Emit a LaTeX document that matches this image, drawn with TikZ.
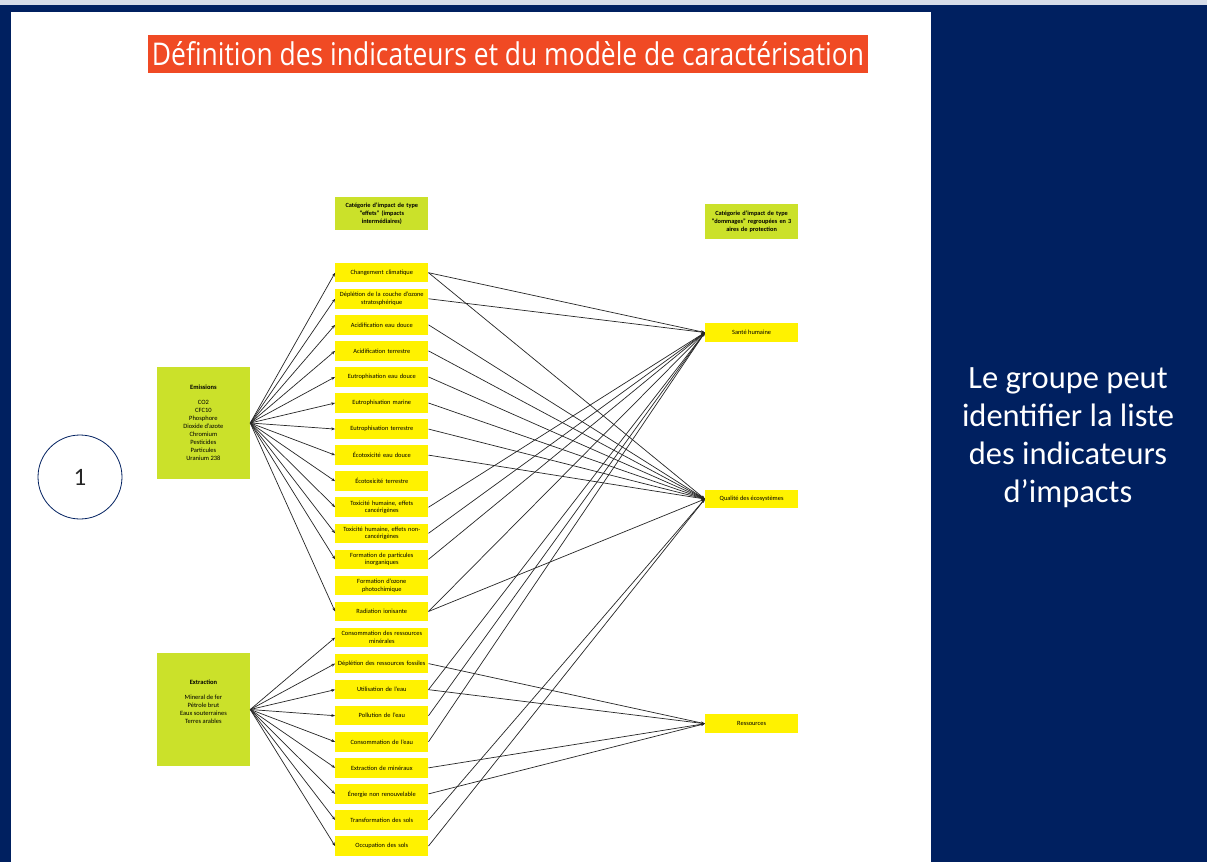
\documentclass[tikz,border=0pt]{standalone}
\usepackage{fontspec}
\setmainfont{Carlito}
\newfontfamily\titlefont{Open Sans}
\usetikzlibrary{arrows.meta}
\definecolor{navy}{RGB}{0,32,96}
\definecolor{topstrip}{RGB}{214,220,232}
\definecolor{lime}{RGB}{203,225,42}
\definecolor{ylw}{RGB}{255,242,0}
\definecolor{titleorange}{RGB}{240,74,36}
\begin{document}
\begin{tikzpicture}[x=1pt,y=-1pt,
  mid/.style={fill=ylw, minimum width=93pt, minimum height=19.5pt, inner sep=0pt, align=center, text width=92pt, font=\fontsize{6.4}{7.7}\selectfont},
  dmg/.style={fill=ylw, minimum width=93pt, minimum height=18.5pt, inner sep=0pt, align=center, font=\fontsize{6.4}{7.7}\selectfont},
  hdr/.style={fill=lime, minimum width=93pt, inner sep=0pt, align=center, text width=92pt, font=\bfseries\fontsize{6.3}{7.9}\selectfont},
  srcbox/.style={fill=lime, minimum width=93.3pt, minimum height=112.5pt, inner sep=0pt},
  srctext/.style={align=center, inner sep=0pt, font=\fontsize{6.5}{7.9}\selectfont},
  arr/.style={-{Stealth[length=3.8pt,width=2.9pt]}, line width=0.7pt, draw=black!85}
]
\useasboundingbox (0,0) rectangle (1207,862);
% background frame
\fill[navy] (0,0) rectangle (1207,862);
\fill[topstrip] (0,0) rectangle (1207,5);
\fill[white] (11,12) rectangle (931,862);

% title
\node[fill=titleorange, minimum width=720pt, minimum height=38pt, inner sep=0pt, text=white] (title) at (508,54)
  {\raisebox{-1pt}{\resizebox{712pt}{24pt}{\titlefont Définition des indicateurs et du modèle de caractérisation}}};

% right panel text
\node[text=white, align=center, inner sep=0pt, font=\fontsize{32.5}{38}\selectfont] (note) at (1068,438)
  {Le groupe peut\\identifier la liste\\des indicateurs\\d’impacts};

% circle 1
\node[circle, draw=navy, line width=0.8pt, minimum size=84pt, inner sep=0pt, text=black!85, font=\fontsize{25}{25}\selectfont] (c1) at (80,477) {1};

% headers
\node[hdr, minimum height=33pt] (hm) at (381.8,213.5) {Catégorie d’impact de type\\“effets” (impacts\\intermédiaires)};
\node[hdr, minimum height=35pt] (hr) at (751.6,221.5) {Catégorie d’impact de type\\“dommages” regroupées en 3\\aires de protection};

% source boxes
\node[srcbox] (em) at (203.4,423) {};
\node[srctext] (emt) at (203.4,422.5) {\textbf{Emissions}\\[7.4pt]CO2\\CFC10\\Phosphore\\Dioxide d’azote\\Chromium\\Pesticides\\Particules\\Uranium 238};
\node[srcbox] (ex) at (203.4,709.5) {};
\node[srctext] (ext) at (203.4,701.5) {\textbf{Extraction}\\[7.4pt]Mineral de fer\\Pétrole brut\\Eaux souterraines\\Terres arables};

% middle nodes
\foreach \t [count=\i] in {
  {Changement climatique},
  {Déplétion de la couche d’ozone\\stratosphérique},
  {Acidification eau douce},
  {Acidification terrestre},
  {Eutrophisation eau douce},
  {Eutrophisation marine},
  {Eutrophisation terrestre},
  {Écotoxicité eau douce},
  {Écotoxicité terrestre},
  {Toxicité humaine, effets\\cancérigènes},
  {Toxicité humaine, effets non-\\cancérigènes},
  {Formation de particules\\inorganiques},
  {Formation d’ozone\\photochimique},
  {Radiation ionisante},
  {Consommation des ressources\\minérales},
  {Déplétion des ressources fossiles},
  {Utilisation de l’eau},
  {Pollution de l’eau},
  {Consommation de l’eau},
  {Extraction de minéraux},
  {Énergie non renouvelable},
  {Transformation des sols},
  {Occupation des sols}}
  \node[mid] (m\i) at (381.8,{272.7+26.06*(\i-1)}) {\t};

% damage nodes
\node[dmg] (r1) at (751.6,332.5) {Santé humaine};
\node[dmg] (r2) at (751.6,499) {Qualité des écosystèmes};
\node[dmg] (r3) at (751.6,723.7) {Ressources};

% left connectors
\foreach \i in {1,...,12,14} \draw[arr] (em.east) -- (m\i.west);
\foreach \i in {15,...,23} \draw[arr] (ex.east) -- (m\i.west);

% right connectors
\foreach \a/\b in {1/1,1/2,2/1,3/2,4/2,5/2,6/2,7/2,8/2,10/1,11/1,12/1,14/1,14/2,16/3,17/1,17/3,18/1,19/1,20/3,21/3,22/2,23/2}
  \draw[arr] (m\a.east) -- (r\b.west);
\end{tikzpicture}
\end{document}
